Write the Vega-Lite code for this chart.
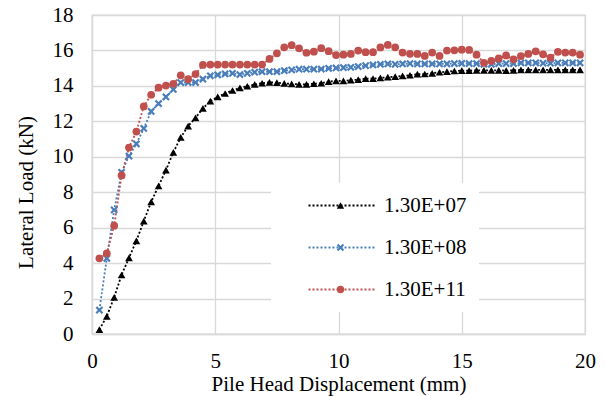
{
  "$schema": "https://vega.github.io/schema/vega-lite/v6.json",
  "autosize": {"type": "none"},
  "width": 493,
  "height": 319,
  "padding": {"left": 92, "top": 15, "right": 20, "bottom": 62},
  "background": "white",
  "config": {
    "view": {"stroke": "#d9d9d9", "strokeWidth": 1.3},
    "font": "Liberation Serif",
    "axis": {"labelFont": "Liberation Serif", "titleFont": "Liberation Serif"},
    "legend": {"labelFont": "Liberation Serif", "titleFont": "Liberation Serif"}
  },
  "data": {
    "values": [
      {"d":0.3,"s":"1.30E+07","f":0.25},{"d":0.6,"s":"1.30E+07","f":1.0},{"d":0.9,"s":"1.30E+07","f":2.07},{"d":1.2,"s":"1.30E+07","f":3.33},{"d":1.5,"s":"1.30E+07","f":4.3},{"d":1.8,"s":"1.30E+07","f":5.26},{"d":2.1,"s":"1.30E+07","f":6.37},{"d":2.4,"s":"1.30E+07","f":7.46},{"d":2.7,"s":"1.30E+07","f":8.35},{"d":3.0,"s":"1.30E+07","f":9.25},{"d":3.3,"s":"1.30E+07","f":10.25},{"d":3.6,"s":"1.30E+07","f":11.09},{"d":3.9,"s":"1.30E+07","f":11.73},{"d":4.2,"s":"1.30E+07","f":12.2},{"d":4.5,"s":"1.30E+07","f":12.73},{"d":4.8,"s":"1.30E+07","f":13.14},{"d":5.1,"s":"1.30E+07","f":13.38},{"d":5.4,"s":"1.30E+07","f":13.57},{"d":5.7,"s":"1.30E+07","f":13.74},{"d":6.0,"s":"1.30E+07","f":13.89},{"d":6.3,"s":"1.30E+07","f":13.98},{"d":6.6,"s":"1.30E+07","f":14.08},{"d":6.9,"s":"1.30E+07","f":14.15},{"d":7.2,"s":"1.30E+07","f":14.2},{"d":7.5,"s":"1.30E+07","f":14.18},{"d":7.8,"s":"1.30E+07","f":14.14},{"d":8.1,"s":"1.30E+07","f":14.11},{"d":8.4,"s":"1.30E+07","f":14.09},{"d":8.7,"s":"1.30E+07","f":14.09},{"d":9.0,"s":"1.30E+07","f":14.12},{"d":9.3,"s":"1.30E+07","f":14.15},{"d":9.6,"s":"1.30E+07","f":14.24},{"d":9.9,"s":"1.30E+07","f":14.28},{"d":10.2,"s":"1.30E+07","f":14.28},{"d":10.5,"s":"1.30E+07","f":14.32},{"d":10.8,"s":"1.30E+07","f":14.35},{"d":11.1,"s":"1.30E+07","f":14.41},{"d":11.4,"s":"1.30E+07","f":14.41},{"d":11.7,"s":"1.30E+07","f":14.45},{"d":12.0,"s":"1.30E+07","f":14.49},{"d":12.3,"s":"1.30E+07","f":14.52},{"d":12.6,"s":"1.30E+07","f":14.56},{"d":12.9,"s":"1.30E+07","f":14.6},{"d":13.2,"s":"1.30E+07","f":14.66},{"d":13.5,"s":"1.30E+07","f":14.67},{"d":13.8,"s":"1.30E+07","f":14.71},{"d":14.1,"s":"1.30E+07","f":14.77},{"d":14.4,"s":"1.30E+07","f":14.8},{"d":14.7,"s":"1.30E+07","f":14.84},{"d":15.0,"s":"1.30E+07","f":14.86},{"d":15.3,"s":"1.30E+07","f":14.86},{"d":15.6,"s":"1.30E+07","f":14.88},{"d":15.9,"s":"1.30E+07","f":14.88},{"d":16.2,"s":"1.30E+07","f":14.88},{"d":16.5,"s":"1.30E+07","f":14.88},{"d":16.8,"s":"1.30E+07","f":14.86},{"d":17.1,"s":"1.30E+07","f":14.88},{"d":17.4,"s":"1.30E+07","f":14.9},{"d":17.7,"s":"1.30E+07","f":14.9},{"d":18.0,"s":"1.30E+07","f":14.9},{"d":18.3,"s":"1.30E+07","f":14.9},{"d":18.6,"s":"1.30E+07","f":14.9},{"d":18.9,"s":"1.30E+07","f":14.9},{"d":19.2,"s":"1.30E+07","f":14.9},{"d":19.5,"s":"1.30E+07","f":14.9},{"d":19.8,"s":"1.30E+07","f":14.9},
      {"d":0.3,"s":"1.30E+08","f":1.35},{"d":0.6,"s":"1.30E+08","f":4.27},{"d":0.9,"s":"1.30E+08","f":7.0},{"d":1.2,"s":"1.30E+08","f":9.12},{"d":1.5,"s":"1.30E+08","f":10.04},{"d":1.8,"s":"1.30E+08","f":10.73},{"d":2.1,"s":"1.30E+08","f":11.6},{"d":2.4,"s":"1.30E+08","f":12.56},{"d":2.7,"s":"1.30E+08","f":13.0},{"d":3.0,"s":"1.30E+08","f":13.38},{"d":3.3,"s":"1.30E+08","f":13.8},{"d":3.6,"s":"1.30E+08","f":14.19},{"d":3.9,"s":"1.30E+08","f":14.19},{"d":4.2,"s":"1.30E+08","f":14.19},{"d":4.5,"s":"1.30E+08","f":14.38},{"d":4.8,"s":"1.30E+08","f":14.57},{"d":5.1,"s":"1.30E+08","f":14.62},{"d":5.4,"s":"1.30E+08","f":14.68},{"d":5.7,"s":"1.30E+08","f":14.71},{"d":6.0,"s":"1.30E+08","f":14.64},{"d":6.3,"s":"1.30E+08","f":14.71},{"d":6.6,"s":"1.30E+08","f":14.77},{"d":6.9,"s":"1.30E+08","f":14.8},{"d":7.2,"s":"1.30E+08","f":14.8},{"d":7.5,"s":"1.30E+08","f":14.8},{"d":7.8,"s":"1.30E+08","f":14.86},{"d":8.1,"s":"1.30E+08","f":14.9},{"d":8.4,"s":"1.30E+08","f":14.94},{"d":8.7,"s":"1.30E+08","f":14.94},{"d":9.0,"s":"1.30E+08","f":14.94},{"d":9.3,"s":"1.30E+08","f":14.95},{"d":9.6,"s":"1.30E+08","f":14.99},{"d":9.9,"s":"1.30E+08","f":15.01},{"d":10.2,"s":"1.30E+08","f":15.03},{"d":10.5,"s":"1.30E+08","f":15.05},{"d":10.8,"s":"1.30E+08","f":15.09},{"d":11.1,"s":"1.30E+08","f":15.14},{"d":11.4,"s":"1.30E+08","f":15.18},{"d":11.7,"s":"1.30E+08","f":15.22},{"d":12.0,"s":"1.30E+08","f":15.24},{"d":12.3,"s":"1.30E+08","f":15.22},{"d":12.6,"s":"1.30E+08","f":15.24},{"d":12.9,"s":"1.30E+08","f":15.26},{"d":13.2,"s":"1.30E+08","f":15.24},{"d":13.5,"s":"1.30E+08","f":15.24},{"d":13.8,"s":"1.30E+08","f":15.24},{"d":14.1,"s":"1.30E+08","f":15.24},{"d":14.4,"s":"1.30E+08","f":15.24},{"d":14.7,"s":"1.30E+08","f":15.26},{"d":15.0,"s":"1.30E+08","f":15.27},{"d":15.3,"s":"1.30E+08","f":15.26},{"d":15.6,"s":"1.30E+08","f":15.26},{"d":15.9,"s":"1.30E+08","f":15.22},{"d":16.2,"s":"1.30E+08","f":15.22},{"d":16.5,"s":"1.30E+08","f":15.26},{"d":16.8,"s":"1.30E+08","f":15.26},{"d":17.1,"s":"1.30E+08","f":15.26},{"d":17.4,"s":"1.30E+08","f":15.3},{"d":17.7,"s":"1.30E+08","f":15.3},{"d":18.0,"s":"1.30E+08","f":15.3},{"d":18.3,"s":"1.30E+08","f":15.28},{"d":18.6,"s":"1.30E+08","f":15.28},{"d":18.9,"s":"1.30E+08","f":15.3},{"d":19.2,"s":"1.30E+08","f":15.3},{"d":19.5,"s":"1.30E+08","f":15.3},{"d":19.8,"s":"1.30E+08","f":15.3},
      {"d":0.3,"s":"1.30E+11","f":4.27},{"d":0.6,"s":"1.30E+11","f":4.55},{"d":0.9,"s":"1.30E+11","f":6.11},{"d":1.2,"s":"1.30E+11","f":8.95},{"d":1.5,"s":"1.30E+11","f":10.52},{"d":1.8,"s":"1.30E+11","f":11.42},{"d":2.1,"s":"1.30E+11","f":12.84},{"d":2.4,"s":"1.30E+11","f":13.5},{"d":2.7,"s":"1.30E+11","f":13.9},{"d":3.0,"s":"1.30E+11","f":14.02},{"d":3.3,"s":"1.30E+11","f":14.12},{"d":3.6,"s":"1.30E+11","f":14.6},{"d":3.9,"s":"1.30E+11","f":14.38},{"d":4.2,"s":"1.30E+11","f":14.67},{"d":4.5,"s":"1.30E+11","f":15.18},{"d":4.8,"s":"1.30E+11","f":15.2},{"d":5.1,"s":"1.30E+11","f":15.2},{"d":5.4,"s":"1.30E+11","f":15.2},{"d":5.7,"s":"1.30E+11","f":15.2},{"d":6.0,"s":"1.30E+11","f":15.2},{"d":6.3,"s":"1.30E+11","f":15.2},{"d":6.6,"s":"1.30E+11","f":15.2},{"d":6.9,"s":"1.30E+11","f":15.2},{"d":7.2,"s":"1.30E+11","f":15.52},{"d":7.5,"s":"1.30E+11","f":15.84},{"d":7.8,"s":"1.30E+11","f":16.18},{"d":8.1,"s":"1.30E+11","f":16.3},{"d":8.4,"s":"1.30E+11","f":16.12},{"d":8.7,"s":"1.30E+11","f":15.87},{"d":9.0,"s":"1.30E+11","f":15.93},{"d":9.3,"s":"1.30E+11","f":16.13},{"d":9.6,"s":"1.30E+11","f":15.96},{"d":9.9,"s":"1.30E+11","f":15.74},{"d":10.2,"s":"1.30E+11","f":15.76},{"d":10.5,"s":"1.30E+11","f":15.8},{"d":10.8,"s":"1.30E+11","f":15.99},{"d":11.1,"s":"1.30E+11","f":15.9},{"d":11.4,"s":"1.30E+11","f":15.9},{"d":11.7,"s":"1.30E+11","f":16.17},{"d":12.0,"s":"1.30E+11","f":16.31},{"d":12.3,"s":"1.30E+11","f":16.18},{"d":12.6,"s":"1.30E+11","f":15.88},{"d":12.9,"s":"1.30E+11","f":15.81},{"d":13.2,"s":"1.30E+11","f":15.8},{"d":13.5,"s":"1.30E+11","f":15.69},{"d":13.8,"s":"1.30E+11","f":15.88},{"d":14.1,"s":"1.30E+11","f":15.69},{"d":14.4,"s":"1.30E+11","f":15.99},{"d":14.7,"s":"1.30E+11","f":16.01},{"d":15.0,"s":"1.30E+11","f":16.04},{"d":15.3,"s":"1.30E+11","f":16.03},{"d":15.6,"s":"1.30E+11","f":15.76},{"d":15.9,"s":"1.30E+11","f":15.3},{"d":16.2,"s":"1.30E+11","f":15.41},{"d":16.5,"s":"1.30E+11","f":15.55},{"d":16.8,"s":"1.30E+11","f":15.72},{"d":17.1,"s":"1.30E+11","f":15.5},{"d":17.4,"s":"1.30E+11","f":15.68},{"d":17.7,"s":"1.30E+11","f":15.8},{"d":18.0,"s":"1.30E+11","f":15.95},{"d":18.3,"s":"1.30E+11","f":15.78},{"d":18.6,"s":"1.30E+11","f":15.59},{"d":18.9,"s":"1.30E+11","f":15.92},{"d":19.2,"s":"1.30E+11","f":15.88},{"d":19.5,"s":"1.30E+11","f":15.88},{"d":19.8,"s":"1.30E+11","f":15.76}
    ]
  },
  "encoding": {
    "x": {
      "field": "d", "type": "quantitative",
      "scale": {"domain": [0, 20], "nice": false, "zero": false},
      "axis": {
        "title": "Pile Head Displacement (mm)",
        "values": [0, 5, 10, 15, 20],
        "grid": true, "gridColor": "#d9d9d9", "gridWidth": 1.3,
        "domainColor": "#d9d9d9", "domainWidth": 1.3,
        "ticks": false, "labelFlush": false, "labelOverlap": false,
        "labelFont": "Liberation Serif", "labelFontSize": 21, "labelColor": "#000000", "labelPadding": 16,
        "titleFont": "Liberation Serif", "titleFontSize": 21, "titleFontWeight": "normal", "titleColor": "#000000",
        "titleBaseline": "alphabetic", "titleY": 56
      }
    },
    "y": {
      "field": "f", "type": "quantitative",
      "scale": {"domain": [0, 18], "nice": false},
      "axis": {
        "title": "Lateral Load (kN)",
        "values": [0, 2, 4, 6, 8, 10, 12, 14, 16, 18],
        "grid": true, "gridColor": "#d9d9d9", "gridWidth": 1.3,
        "domainColor": "#d9d9d9", "domainWidth": 1.3,
        "ticks": false, "labelFlush": false, "labelOverlap": false,
        "labelFont": "Liberation Serif", "labelFontSize": 21, "labelColor": "#000000", "labelPadding": 19,
        "titleFont": "Liberation Serif", "titleFontSize": 21, "titleFontWeight": "normal", "titleColor": "#000000",
        "titleAngle": -90, "titleBaseline": "alphabetic", "titleAlign": "center", "titleX": -60, "titleY": 177
      }
    }
  },
  "layer": [
    {
      "mark": {"type": "line", "strokeWidth": 1.8, "strokeDash": [2, 2]},
      "encoding": {
        "stroke": {
          "field": "s", "type": "nominal",
          "scale": {"domain": ["1.30E+07", "1.30E+08", "1.30E+11"], "range": ["#000000", "#4a7ebb", "#c0504d"]},
          "legend": {
            "orient": "none", "legendX": 179, "legendY": 168,
            "title": null, "fillColor": "#ffffff", "padding": 12,
            "symbolType": "M-8,0L8,0", "symbolSize": 72.25, "symbolStrokeWidth": 2, "symbolDash": [2, 2],
            "symbolOffset": 49, "labelOffset": 31, "rowPadding": 20,
            "labelExpr": "datum.label + '\u00a0\u00a0\u00a0\u00a0'",
            "labelFont": "Liberation Serif", "labelFontSize": 21, "labelColor": "#000000"
          }
        }
      }
    },
    {
      "mark": {"type": "point", "filled": true, "opacity": 1, "size": 60},
      "encoding": {
        "fill": {
          "field": "s", "type": "nominal",
          "scale": {"range": ["#000000", "#4a7ebb", "#c0504d"]},
          "legend": {
            "orient": "none", "legendX": 179, "legendY": 168,
            "title": null, "padding": 12,
            "symbolSize": 55, "symbolStrokeWidth": 0, "symbolOffset": 47,
            "rowPadding": 20, "labelExpr": "'\u00a0'",
            "labelFont": "Liberation Serif", "labelFontSize": 21
          }
        },
        "shape": {
          "field": "s", "type": "nominal",
          "scale": {"range": ["triangle-up", "M-1,-0.6L-0.6,-1L0,-0.4L0.6,-1L1,-0.6L0.4,0L1,0.6L0.6,1L0,0.4L-0.6,1L-1,0.6L-0.4,0Z", "circle"]},
          "legend": {
            "orient": "none", "legendX": 179, "legendY": 168,
            "title": null, "padding": 12,
            "symbolSize": 55, "symbolStrokeWidth": 0, "symbolOffset": 47,
            "rowPadding": 20, "labelExpr": "'\u00a0'",
            "labelFont": "Liberation Serif", "labelFontSize": 21
          }
        }
      }
    }
  ]
}
